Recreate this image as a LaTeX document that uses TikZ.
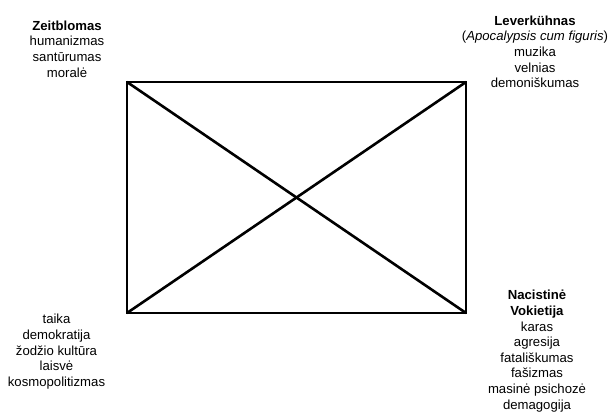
\documentclass[tikz,border=0pt]{standalone}
\usepackage{fontspec}
\setmainfont{Liberation Sans}
\begin{document}
\begin{tikzpicture}[x=1bp,y=-1bp,
  lbl/.style={anchor=north,align=center,inner sep=0pt,font=\fontsize{13.2}{15.7}\selectfont},
  edge/.style={line width=2.6bp,line join=miter,line cap=butt}]
\useasboundingbox (0,0) rectangle (611,413);
\coordinate (tl) at (127,82);
\coordinate (tr) at (466,82);
\coordinate (bl) at (127,313);
\coordinate (br) at (466,313);
\draw[edge] (tl) -- (tr) -- (br) -- (bl) -- cycle;
\draw[edge] (tl) -- (br);
\draw[edge] (bl) -- (tr);
\node[lbl] (zeit) at (67,20.5) {\textbf{Zeitblomas}\\humanizmas\\santūrumas\\moralė};
\node[lbl] (lev) at (535,15.5) {\textbf{Leverkühnas}\\(\textit{Apocalypsis cum figuris})\\muzika\\velnias\\demoniškumas};
\node[lbl] (taika) at (56.5,314) {taika\\demokratija\\žodžio kultūra\\laisvė\\kosmopolitizmas};
\node[lbl] (naz) at (537,290) {\textbf{Nacistinė}\\\textbf{Vokietija}\\karas\\agresija\\fatališkumas\\fašizmas\\masinė psichozė\\demagogija};
\end{tikzpicture}
\end{document}
